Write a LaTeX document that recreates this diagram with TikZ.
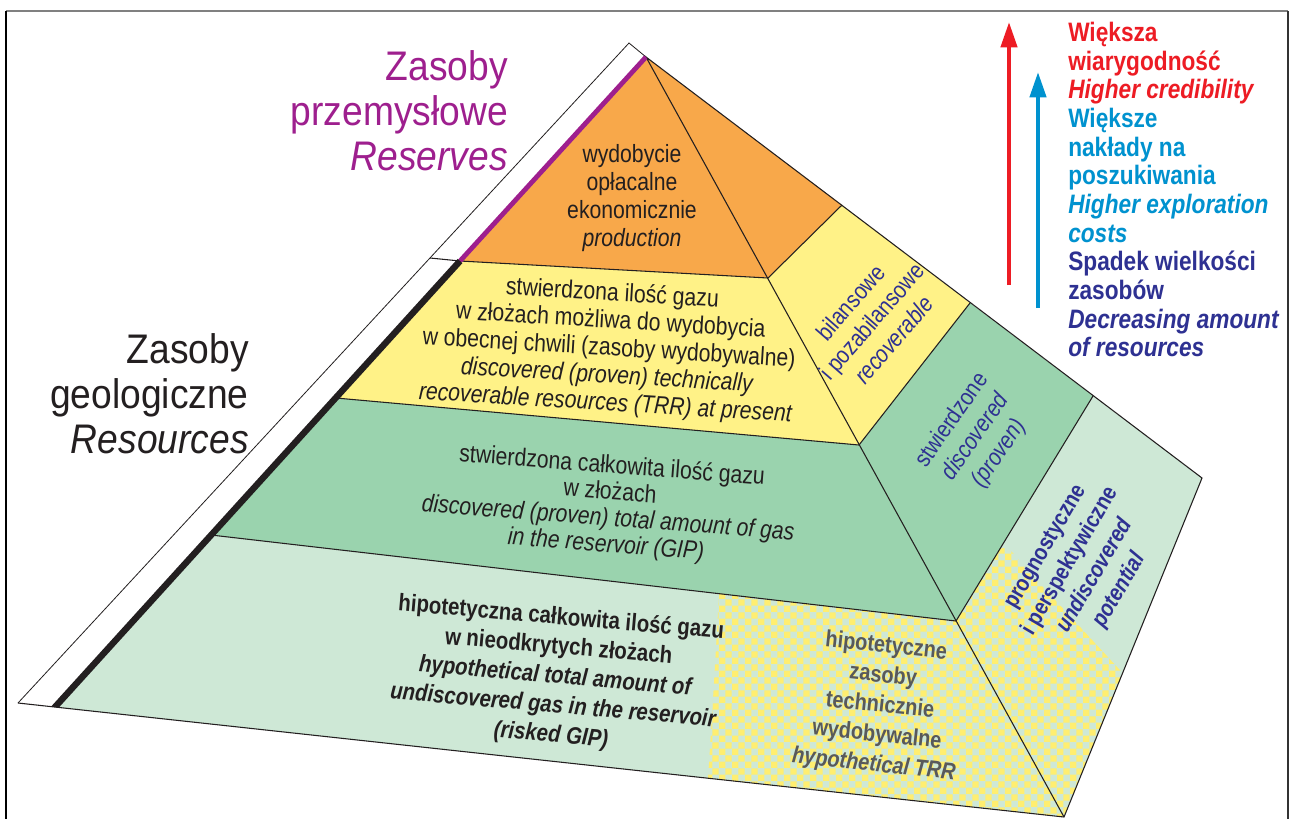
\documentclass[tikz,border=0pt]{standalone}
\usepackage{fontspec}
\setmainfont{Liberation Sans}[FakeStretch=0.85]
\newfontfamily\titlefont{Liberation Sans}[FakeStretch=0.9]
\usetikzlibrary{arrows.meta,patterns}

\pgfdeclarepatternformonly{bigcheck}{\pgfpointorigin}{\pgfqpoint{10pt}{10pt}}{\pgfqpoint{10pt}{10pt}}{%
  \pgfpathrectangle{\pgfpointorigin}{\pgfqpoint{5pt}{5pt}}%
  \pgfpathrectangle{\pgfqpoint{5pt}{5pt}}{\pgfqpoint{5pt}{5pt}}%
  \pgfusepath{fill}}

\definecolor{cOrange}{RGB}{248,168,74}
\definecolor{cYellow}{RGB}{255,242,135}
\definecolor{cGreen}{RGB}{154,211,174}
\definecolor{cLight}{RGB}{206,232,214}
\definecolor{cCheck}{RGB}{255,238,112}
\definecolor{cPurple}{RGB}{158,31,142}
\definecolor{cText}{RGB}{35,31,32}
\definecolor{cBlue}{RGB}{46,49,146}
\definecolor{cRed}{RGB}{237,28,36}
\definecolor{cCyan}{RGB}{0,146,207}
\definecolor{cGray}{RGB}{88,89,91}

\tikzset{
  edge/.style={draw=cText, line width=0.8pt, line join=miter},
  band/.style={align=center, text=cText, inner sep=0pt, font=\fontsize{18.7}{21}\selectfont},
  sidetext/.style={align=center, text=cBlue, inner sep=0pt, font=\fontsize{18}{21.5}\selectfont},
  titletext/.style={align=right, inner sep=0pt, font=\titlefont\fontsize{31}{33.75}\selectfont},
  legendtext/.style={align=left, inner sep=0pt, font=\fontsize{20}{21.5}\selectfont\bfseries},
  bigarrow/.style={line width=3.2pt, -{Triangle[length=19pt,width=12pt]}}
}

\begin{document}
\begin{tikzpicture}[x=0.75pt, y=-0.75pt]
\useasboundingbox (0,0) rectangle (1291,819);
\fill[white] (0,0) rectangle (1291,819);

% frame
\draw[gray, line width=1.4pt] (6,11) -- (1288,11);
\draw[black, line width=0.8pt] (6,11) -- (6,819);
\draw[black!80, line width=0.8pt] (1288,11) -- (1288,819);

% coordinates
\coordinate (W) at (629,43);
\coordinate (A) at (646,57);
\coordinate (WB) at (18,703);
\coordinate (S) at (430,258);
\coordinate (L1) at (460,261);
\coordinate (L2) at (336,398);
\coordinate (L3) at (211,535);
\coordinate (L4) at (55,707);
\coordinate (E1) at (768,278);
\coordinate (E2) at (859,445);
\coordinate (E3) at (956,621);
\coordinate (E4) at (1064,817);
\coordinate (R1) at (842,205);
\coordinate (R2) at (970,303);
\coordinate (R3) at (1093,396);
\coordinate (R4) at (1202,478);
\coordinate (P1) at (719,593.6);
\coordinate (P2) at (1000,548.7);
\coordinate (P3) at (1122.6,673);
\coordinate (P4) at (708,778.2);
\coordinate (Atop) at (652.7,49.6);
\coordinate (Lbot) at (48.3,714.4);

% faces
\fill[white] (W) -- (A) -- (L4) -- (WB) -- cycle;
\fill[cOrange] (A) -- (L1) -- (E1) -- (R1) -- cycle;
\fill[cYellow] (L1) -- (E1) -- (R1) -- (R2) -- (E2) -- (L2) -- cycle;
\fill[cGreen] (L2) -- (E2) -- (R2) -- (R3) -- (E3) -- (L3) -- cycle;
\fill[cLight] (L3) -- (E3) -- (R3) -- (R4) -- (E4) -- (L4) -- cycle;

% checkered area
\fill[pattern=bigcheck, pattern color=cCheck]
  (P1) -- (E3) -- (P2) .. controls (1008,546) and (1014,553) .. (1020,562)
  -- (P3) -- (E4) -- (P4) .. controls (711,735) and (716,650) .. (P1) -- cycle;

% outlines
\draw[edge, line width=0.6pt] (WB) -- (W) -- (A);
\draw[edge] (WB) -- (E4) -- (R4) -- (A) -- (E4);
\draw[edge] (S) -- (L1) -- (E1) -- (R1);
\draw[edge] (L2) -- (E2) -- (R2);
\draw[edge] (L3) -- (E3) -- (R3);

% thick left edge
\begin{scope}
  \clip (W) -- (A) -- (E4) -- (WB) -- cycle;
  \draw[cPurple, line width=3.6pt] (Atop) -- (L1);
  \draw[cText, line width=4.8pt] (L1) -- (Lbot);
\end{scope}

% titles
\node[titletext, text=cPurple, anchor=north east] (reserves) at (508,50)
  {Zasoby\\przemysłowe\\\textit{Reserves}};
\node[titletext, text=cText, anchor=north east] (resources) at (249,333)
  {Zasoby\\geologiczne\\\textit{Resources}};

% front face texts
\node[band] (orangetxt) at (632,198)
  {wydobycie\\opłacalne\\ekonomicznie\\\textit{production}};
\node[band, font=\fontsize{18.7}{20.6}\selectfont, rotate=-3.5] (yellowtxt) at (609,349)
  {stwierdzona ilość gazu\\w złożach możliwa do wydobycia\\w obecnej chwili (zasoby wydobywalne)\\\textit{discovered (proven) technically}\\\textit{recoverable resources (TRR) at present}};
\node[band, font=\fontsize{18.7}{19.8}\selectfont, rotate=-4.4] (greentxt) at (609,506)
  {stwierdzona całkowita ilość gazu\\w złożach\\\textit{discovered (proven) total amount of gas}\\\textit{in the reservoir (GIP)}};
\node[band, font=\fontsize{18}{22.1}\selectfont\bfseries, rotate=-5] (hyptxt) at (556,677)
  {hipotetyczna całkowita ilość gazu\\w nieodkrytych złożach\\\textit{hypothetical total amount of}\\\textit{undiscovered gas in the reservoir}\\\textit{(risked GIP)}};
\node[band, text=cGray, font=\fontsize{17.6}{22.3}\selectfont\bfseries, rotate=-6] (trrtxt) at (880,706)
  {hipotetyczne\\zasoby\\technicznie\\wydobywalne\\\textit{hypothetical TRR}};

% side face texts
\node[sidetext, rotate=49] (biltxt) at (872,321)
  {bilansowe\\i pozabilansowe\\\textit{recoverable}};
\node[sidetext, rotate=55] (stwtxt) at (976,437)
  {stwierdzone\\\textit{discovered}\\\textit{(proven)}};
\node[sidetext, font=\fontsize{17.3}{21.4}\selectfont\bfseries, rotate=59.5] (progtxt) at (1083,569)
  {prognostyczne\\i perspektywiczne\\\textit{undiscovered}\\\textit{potential}};

% arrows
\coordinate (redB) at (1009,285);
\coordinate (redT) at (1009,22);
\coordinate (bluB) at (1038,308);
\coordinate (bluT) at (1038,72);
\draw[bigarrow, cRed] (redB) -- (redT);
\draw[bigarrow, cCyan] (bluB) -- (bluT);

% legend
\node[legendtext, anchor=north west] (legend) at (1068,22)
  {\textcolor{cRed}{Większa}\\
   \textcolor{cRed}{wiarygodność}\\
   \textcolor{cRed}{\itshape Higher credibility}\\
   \textcolor{cCyan}{Większe}\\
   \textcolor{cCyan}{nakłady na}\\
   \textcolor{cCyan}{poszukiwania}\\
   \textcolor{cCyan}{\itshape Higher exploration}\\
   \textcolor{cCyan}{\itshape costs}\\
   \textcolor{cBlue}{Spadek wielkości}\\
   \textcolor{cBlue}{zasobów}\\
   \textcolor{cBlue}{\itshape Decreasing amount}\\
   \textcolor{cBlue}{\itshape of resources}};
\end{tikzpicture}
\end{document}
